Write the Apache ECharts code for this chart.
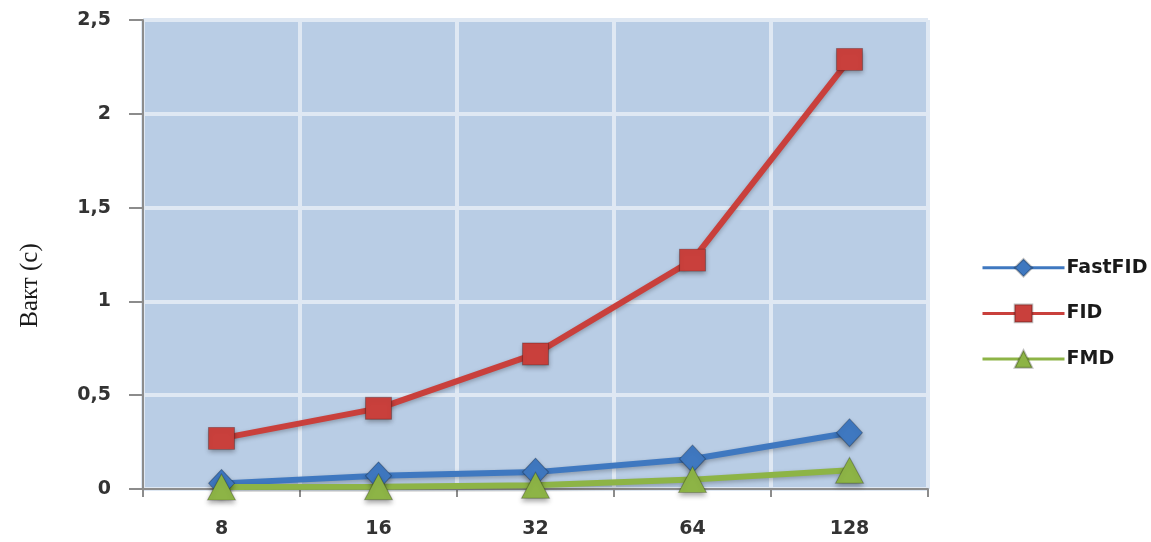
<!DOCTYPE html>
<html>
<head>
<meta charset="utf-8">
<style>
  html, body { margin: 0; padding: 0; background: #ffffff; }
  #chart { width: 1151px; height: 542px; }
</style>
<script src="https://cdn.jsdelivr.net/npm/echarts@6/dist/echarts.min.js"></script>
</head>
<body>
<div id="chart"></div>
<script>
// Processing time per window size
const categories = ['8', '16', '32', '64', '128'];
const fastFID = [0.03, 0.07, 0.09, 0.16, 0.30];
const fid = [0.27, 0.43, 0.72, 1.22, 2.29];
const fmd = [0.01, 0.012, 0.02, 0.05, 0.10];
const yTicks = { min: 0, max: 2.5, interval: 0.5 };

const chart = echarts.init(document.getElementById('chart'));

const labelFont = {
  color: '#333333',
  fontFamily: 'DejaVu Sans',
  fontSize: 19,
  fontWeight: 'bold'
};

function lineSeries(name, data, color, symbol, size) {
  return {
    name: name,
    type: 'line',
    data: data,
    symbol: symbol,
    symbolSize: size,
    lineStyle: {
      color: color,
      width: 6,
      shadowColor: 'rgba(0,0,0,0.25)',
      shadowBlur: 4,
      shadowOffsetY: 2
    },
    itemStyle: {
      color: color,
      borderColor: 'rgba(0,0,0,0.25)',
      borderWidth: 1,
      shadowColor: 'rgba(0,0,0,0.35)',
      shadowBlur: 5,
      shadowOffsetY: 3
    },
    emphasis: { disabled: true },
    animation: false
  };
}

chart.setOption({
  backgroundColor: '#ffffff',
  grid: {
    left: 143,
    right: 223,
    top: 20,
    bottom: 53,
    show: true,
    backgroundColor: '#b9cde5',
    borderWidth: 0
  },
  legend: {
    orient: 'vertical',
    left: 976,
    top: 253,
    itemWidth: 82,
    itemHeight: 22,
    itemGap: 26,
    lineStyle: { width: 3, shadowBlur: 0 },
    itemStyle: { shadowBlur: 0 },
    textStyle: {
      color: '#1a1a1a',
      fontFamily: 'DejaVu Sans',
      fontSize: 19,
      fontWeight: 'bold',
      padding: [0, 0, 0, -3]
    },
    data: ['FastFID', 'FID', 'FMD']
  },
  xAxis: {
    type: 'category',
    data: categories,
    boundaryGap: true,
    axisLine: { show: true, lineStyle: { color: '#8c8c8c', width: 2 } },
    axisTick: { show: true, length: 8, lineStyle: { color: '#8c8c8c', width: 2 } },
    axisLabel: Object.assign({ margin: 31 }, labelFont),
    splitLine: { show: true, lineStyle: { color: '#dfe8f3', width: 4 } }
  },
  yAxis: {
    type: 'value',
    min: yTicks.min,
    max: yTicks.max,
    interval: yTicks.interval,
    name: 'Вакт (с)',
    nameLocation: 'middle',
    nameGap: 100,
    nameRotate: 90,
    nameTextStyle: {
      color: '#1a1a1a',
      fontFamily: 'Liberation Serif',
      fontSize: 25,
      padding: [0, 62, 0, 0]
    },
    axisLine: { show: true, lineStyle: { color: '#8c8c8c', width: 2 } },
    axisTick: { show: true, length: 14, lineStyle: { color: '#8c8c8c', width: 2 } },
    axisLabel: Object.assign({
      margin: 32,
      formatter: function (v) { return String(v).replace('.', ','); }
    }, labelFont),
    splitLine: { show: true, lineStyle: { color: '#dfe8f3', width: 4 } }
  },
  series: [
    lineSeries('FastFID', fastFID, '#3f78c0', 'diamond', [26, 28]),
    lineSeries('FID', fid, '#c9403c', 'rect', [26, 22]),
    lineSeries('FMD', fmd, '#8db446', 'triangle', [28, 26])
  ]
});
</script>
</body>
</html>
